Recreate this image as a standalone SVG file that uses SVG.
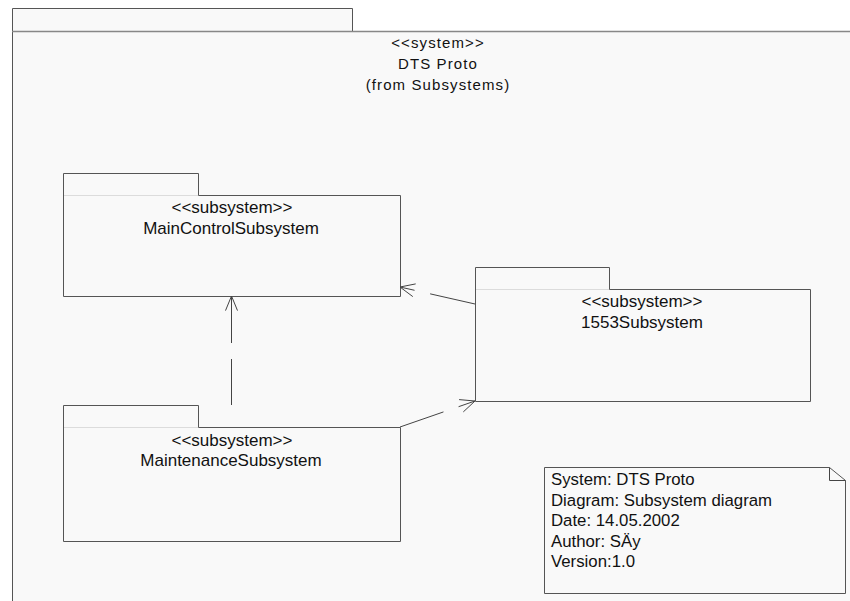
<svg xmlns="http://www.w3.org/2000/svg" width="850" height="601" viewBox="0 0 850 601">
<defs>
<style>
.bg{fill:#ffffff}
.pkg{fill:#f9f9f9;stroke:#555555;stroke-width:1}
.sep{stroke:#dcdcdc;stroke-width:1;fill:none}
.t{font-family:"Liberation Sans",Arial,sans-serif;font-size:17px;fill:#111111;text-anchor:middle}
.title{font-family:"Liberation Sans",Arial,sans-serif;font-size:15px;letter-spacing:1.1px;fill:#111111;text-anchor:middle}
.note{font-family:"Liberation Sans",Arial,sans-serif;font-size:16.8px;fill:#111111}
.dep{stroke:#444444;stroke-width:1;fill:none;stroke-dasharray:46 16}
.head{stroke:#444444;stroke-width:1;fill:none}
</style>
</defs>
<rect class="bg" x="0" y="0" width="850" height="601"/>
<g id="system">
<path class="pkg" d="M12.5,602 V8.5 H352.5 V31.5 H851 V602 Z"/>
<line x1="12" y1="31.5" x2="850" y2="31.5" stroke="#888888" stroke-width="1.5"/>
<text class="title" x="438" y="48">&lt;&lt;system&gt;&gt;</text>
<text class="title" x="438" y="69">DTS Proto</text>
<text class="title" x="438" y="90">(from Subsystems)</text>
</g>
<g id="MainControlSubsystem">
<path class="pkg" d="M63.5,296.5 V173.5 H198.5 V195.5 H400.5 V296.5 Z"/>
<line class="sep" x1="64" y1="195.5" x2="198" y2="195.5"/>
<text class="t" x="232" y="213">&lt;&lt;subsystem&gt;&gt;</text>
<text class="t" x="231" y="234">MainControlSubsystem</text>
</g>
<g id="Subsystem1553">
<path class="pkg" d="M475.5,401.5 V267.5 H609.5 V289.5 H810.5 V401.5 Z"/>
<line class="sep" x1="476" y1="289.5" x2="609" y2="289.5"/>
<text class="t" x="642" y="307">&lt;&lt;subsystem&gt;&gt;</text>
<text class="t" x="642" y="328">1553Subsystem</text>
</g>
<g id="MaintenanceSubsystem">
<path class="pkg" d="M63.5,541.5 V405.5 H198.5 V427.5 H400.5 V541.5 Z"/>
<line class="sep" x1="64" y1="427.5" x2="198" y2="427.5"/>
<text class="t" x="232" y="446">&lt;&lt;subsystem&gt;&gt;</text>
<text class="t" x="231" y="466">MaintenanceSubsystem</text>
</g>
<g id="note">
<path class="pkg" d="M544.5,467.5 H829.5 L845.5,480.5 V593.5 H544.5 Z"/>
<path class="head" d="M829.5,467.5 V480.5 H845.5"/>
<text class="note" x="551" y="485">System: DTS Proto</text>
<text class="note" x="551" y="505.5">Diagram: Subsystem diagram</text>
<text class="note" x="551" y="526">Date: 14.05.2002</text>
<text class="note" x="551" y="546.5">Author: SÄy</text>
<text class="note" x="551" y="567">Version:1.0</text>
</g>
<g id="connectors">
<path class="dep" d="M475,304 L400,287"/>
<path class="head" d="M415.7,283.9 L400,287 L412.8,296.6"/>
<path class="dep" d="M231.5,405 L231.5,296"/>
<path class="head" d="M225.5,310.6 L231.5,296 L237.5,310.6"/>
<path class="dep" d="M400,427 L475,401"/>
<path class="head" d="M459.1,399.6 L475,401 L463.3,411.9"/>
</g>
</svg>
